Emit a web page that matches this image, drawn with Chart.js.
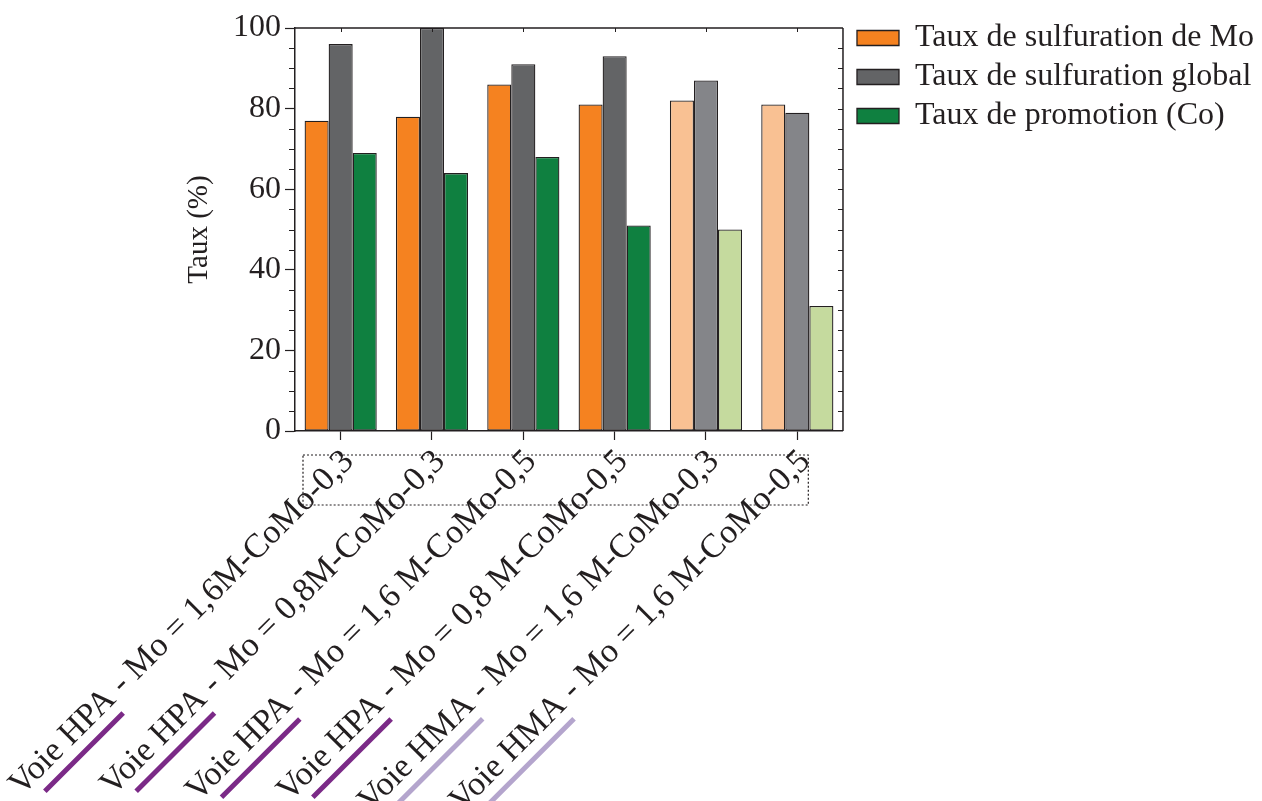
<!DOCTYPE html>
<html>
<head>
<meta charset="utf-8">
<title>Taux de sulfuration</title>
<script src="https://cdn.jsdelivr.net/npm/chart.js@4/dist/chart.umd.min.js"></script>
<style>
  html, body { margin: 0; padding: 0; background: #fff; }
</style>
</head>
<body>
<canvas id="chart" width="1262" height="801"></canvas>
<script>
// ---- data ----
var categories = [
  'Voie HPA - Mo = 1,6M-CoMo-0,3',
  'Voie HPA - Mo = 0,8M-CoMo-0,3',
  'Voie HPA - Mo = 1,6 M-CoMo-0,5',
  'Voie HPA - Mo = 0,8 M-CoMo-0,5',
  'Voie HMA - Mo = 1,6 M-CoMo-0,3',
  'Voie HMA - Mo = 1,6 M-CoMo-0,5'
];
var routePrefix = ['Voie HPA', 'Voie HPA', 'Voie HPA', 'Voie HPA', 'Voie HMA', 'Voie HMA'];
var seriesNames = ['Taux de sulfuration de Mo', 'Taux de sulfuration global', 'Taux de promotion (Co)'];
var moValues     = [77, 78, 86, 81, 82, 81];
var globalValues = [96, 100, 91, 93, 87, 79];
var coValues     = [69, 64, 68, 51, 50, 31];
var yTicks = [0, 20, 40, 60, 80, 100];

var INK = '#231f20';
var FONT = '"Liberation Serif", "Times New Roman", serif';
var darkColors  = ['#f58220', '#636466', '#0f8040'];
var lightColors = ['#f9c193', '#848589', '#c5da9e'];
var lineColors  = { 'Voie HPA': '#7b2a87', 'Voie HMA': '#b4a5cd' };

function barColor(series) {
  return function(c) {
    if (c.dataIndex === undefined) return darkColors[series];
    return c.dataIndex >= 4 ? lightColors[series] : darkColors[series];
  };
}

function makeDataset(i, values) {
  return {
    label: seriesNames[i],
    data: values,
    backgroundColor: barColor(i),
    borderColor: INK,
    borderWidth: 1.3,
    borderSkipped: false,
    categoryPercentage: 0.79,
    barPercentage: 1.0
  };
}

// frame, minor ticks, underlines and dotted box
var extras = {
  id: 'extras',
  afterLayout: function(chart) {
    // move the legend a touch away from the plot
    var lg = chart.legend;
    var shift = chart.chartArea.right + 7 - lg.left;
    lg.left += shift;
    lg.right += shift;
  },
  afterDraw: function(chart) {
    var ctx = chart.ctx, a = chart.chartArea;
    var y = chart.scales.y, x = chart.scales.x;
    ctx.save();
    ctx.strokeStyle = INK;
    ctx.lineWidth = 1.5;
    ctx.beginPath();
    ctx.moveTo(a.left, a.top); ctx.lineTo(a.right, a.top);
    ctx.moveTo(a.right, a.top); ctx.lineTo(a.right, a.bottom);
    ctx.stroke();

    ctx.lineWidth = 1;
    ctx.beginPath();
    for (var v = 5; v < 100; v += 5) {
      var py = Math.round(y.getPixelForValue(v)) + 0.5;
      if (v % 20 !== 0) { ctx.moveTo(a.left, py); ctx.lineTo(a.left - 6, py); }
      ctx.moveTo(a.right, py); ctx.lineTo(a.right - 5, py);
    }
    for (var i = 0; i < categories.length; i++) {
      var px = Math.round(x.getPixelForValue(i)) + 0.5;
      ctx.moveTo(px, a.top); ctx.lineTo(px, a.top + 4);
    }
    ctx.stroke();

    // dotted box
    ctx.setLineDash([2, 2]);
    ctx.lineWidth = 1.2;
    var bx0 = a.left + 8, bx1 = x.getPixelForValue(5) + 11;
    ctx.strokeRect(bx0, a.bottom + 24, bx1 - bx0, 50);
    ctx.setLineDash([]);

    // route underlines
    var items = x.getLabelItems();
    items.forEach(function(it, k) {
      var o = it.options;
      ctx.save();
      ctx.font = it.font.string;
      var full = ctx.measureText(it.label).width;
      var pre = ctx.measureText(routePrefix[k]).width;
      ctx.translate(o.translation[0], o.translation[1]);
      ctx.rotate(o.rotation);
      ctx.textBaseline = o.textBaseline;
      var m = ctx.measureText(it.label);
      var yy = it.textOffset + m.actualBoundingBoxDescent + 8;
      ctx.strokeStyle = lineColors[routePrefix[k]];
      ctx.lineWidth = 5;
      ctx.beginPath();
      ctx.moveTo(-full + pre * 0.2 - 7, yy);
      ctx.lineTo(-full + pre * 1.02 - 7, yy);
      ctx.stroke();
      ctx.restore();
    });
    ctx.restore();
  }
};

new Chart(document.getElementById('chart'), {
  type: 'bar',
  data: {
    labels: categories,
    datasets: [
      makeDataset(0, moValues),
      makeDataset(1, globalValues),
      makeDataset(2, coValues)
    ]
  },
  options: {
    responsive: false,
    animation: false,
    layout: { padding: { top: 15, right: 5, left: 0, bottom: 0 } },
    plugins: {
      tooltip: { enabled: false },
      legend: {
        position: 'right',
        align: 'start',
        maxWidth: 420,
        labels: {
          boxWidth: 42,
          boxHeight: 15,
          padding: 7,
          color: INK,
          font: { family: FONT, size: 32 }
        }
      }
    },
    scales: {
      x: {
        afterFit: function(s) {
          s.height = 370;
          s.paddingLeft = 295;
        },
        grid: { drawOnChartArea: false, offset: false, tickLength: 9, color: INK, tickWidth: 1.2 },
        border: { color: INK, width: 1.5 },
        ticks: {
          autoSkip: false,
          minRotation: 45,
          maxRotation: 45,
          labelOffset: 8,
          padding: 2,
          color: INK,
          font: { family: FONT, size: 34 }
        }
      },
      y: {
        min: 0,
        max: 100,
        afterFit: function(s) { s.paddingTop = 28; },
        afterBuildTicks: function(s) {
          s.ticks = yTicks.map(function(v) { return { value: v }; });
        },
        grid: { drawOnChartArea: false, tickLength: 10, color: INK, tickWidth: 1.2 },
        border: { color: INK, width: 1.5 },
        ticks: {
          padding: 4,
          color: INK,
          font: { family: FONT, size: 32 }
        },
        title: {
          display: true,
          text: 'Taux (%)',
          color: INK,
          padding: { top: 0, bottom: 12 },
          font: { family: FONT, size: 29 }
        }
      }
    }
  },
  plugins: [extras]
});
</script>
</body>
</html>
